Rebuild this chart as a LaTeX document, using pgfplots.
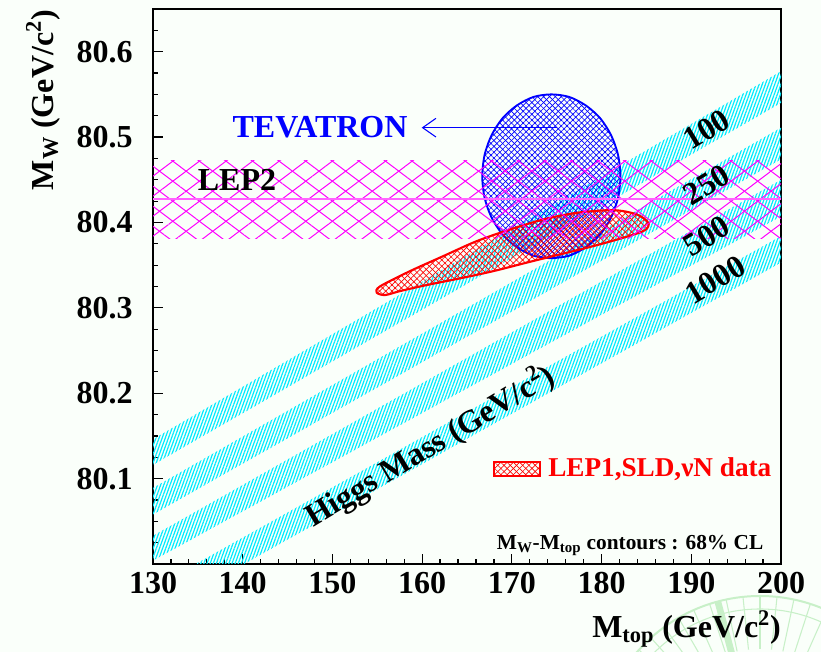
\documentclass[border=0pt]{standalone}
\usepackage{fontspec}
\setmainfont{Liberation Serif}
\usepackage{pgfplots}
\pgfplotsset{compat=1.18}
\usetikzlibrary{patterns.meta,arrows.meta}
\definecolor{bgc}{RGB}{250,255,250}
\definecolor{hcyan}{RGB}{0,235,255}
\definecolor{mag}{RGB}{255,0,255}
\definecolor{magline}{RGB}{255,100,255}
\definecolor{wm}{RGB}{200,240,200}
\newcommand{\bigf}{\fontsize{24}{28}\selectfont\bfseries}
\newcommand{\legf}{\fontsize{20.4}{24}\selectfont\bfseries}
\newcommand{\smallf}{\fontsize{16}{19}\selectfont\bfseries}
\begin{document}
\begin{tikzpicture}[x=0.75pt,y=0.75pt]
\fill[bgc] (0,0) rectangle (821,652);
\useasboundingbox (0,0) rectangle (821,652);
\begin{scope}
\clip (0,0) rectangle (821,652);
\draw[wm, line width=1.5pt] (760,-107) circle (163);
\draw[wm, line width=0.8pt] (760,-107) circle (150);
\foreach \a in {0,6,...,354} \draw[wm, line width=0.8pt, shift={(760,-107)}] (\a:110) -- (\a:163);
\draw[wm, line width=5pt, shift={(760,-107)}] (105:110) -- (105:163);
\end{scope}
\begin{axis}[
  at={(114.75pt,66pt)}, anchor=south west,
  scale only axis, width=471pt, height=416.25pt,
  xmin=130, xmax=200, ymin=80, ymax=80.65,
  xtick={130,140,150,160,170,180,190,200},
  ytick={80.1,80.2,80.3,80.4,80.5,80.6},
  yticklabels={80.1,80.2,80.3,80.4,80.5,80.6},
  minor xtick={132,134,136,138,142,144,146,148,152,154,156,158,162,164,166,168,172,174,176,178,182,184,186,188,192,194,196,198},
  minor ytick={80.025,80.05,80.075,80.125,80.15,80.175,80.225,80.25,80.275,80.325,80.35,80.375,80.425,80.45,80.475,80.525,80.55,80.575,80.625},
  tick pos=left, tick align=inside,
  major tick length=7.5pt, minor tick length=3.75pt,
  tick style={black, line width=0.9pt},
  axis line style={black, line width=1pt},
  /pgf/number format/assume math mode=true,
  tick label style={font=\bigf, inner sep=0pt},
  xticklabel style={yshift=-6pt},
  yticklabel style={xshift=-15pt},
  clip mode=individual,
]
% Higgs mass bands
\addplot[draw=none, pattern={Lines[angle=70,distance=2.2pt,line width=0.9pt]}, pattern color=hcyan]
  coordinates {(130,80.146) (200,80.577) (200,80.540) (130,80.116)} --cycle;
\addplot[draw=none, pattern={Lines[angle=70,distance=2.2pt,line width=0.9pt]}, pattern color=hcyan]
  coordinates {(130,80.089) (200,80.511) (200,80.474) (130,80.058)} --cycle;
\addplot[draw=none, pattern={Lines[angle=70,distance=2.2pt,line width=0.9pt]}, pattern color=hcyan]
  coordinates {(130,80.033) (200,80.450) (200,80.407) (130,80.004)} --cycle;
\addplot[draw=none, pattern={Lines[angle=70,distance=2.2pt,line width=0.9pt]}, pattern color=hcyan]
  coordinates {(130,79.972) (200,80.384) (200,80.353) (130,79.940)} --cycle;
% TEVATRON ellipse
\addplot[draw=none, pattern={Lines[angle=45,distance=3.1pt,line width=0.5pt]}, pattern color=blue, smooth]
  coordinates {(174.40,80.358) (176.39,80.361) (178.25,80.371) (179.85,80.386) (181.07,80.406) (181.84,80.429) (182.10,80.454) (181.84,80.479) (181.07,80.502) (179.85,80.522) (178.25,80.537) (176.39,80.547) (174.40,80.550) (172.41,80.547) (170.55,80.537) (168.96,80.522) (167.73,80.502) (166.96,80.479) (166.70,80.454) (166.96,80.429) (167.73,80.406) (168.96,80.386) (170.55,80.371) (172.41,80.361) (174.40,80.358)};
\addplot[draw=blue, line width=1.4pt, pattern={Lines[angle=-45,distance=3.1pt,line width=0.5pt]}, pattern color=blue, smooth]
  coordinates {(174.40,80.358) (176.39,80.361) (178.25,80.371) (179.85,80.386) (181.07,80.406) (181.84,80.429) (182.10,80.454) (181.84,80.479) (181.07,80.502) (179.85,80.522) (178.25,80.537) (176.39,80.547) (174.40,80.550) (172.41,80.547) (170.55,80.537) (168.96,80.522) (167.73,80.502) (166.96,80.479) (166.70,80.454) (166.96,80.429) (167.73,80.406) (168.96,80.386) (170.55,80.371) (172.41,80.361) (174.40,80.358)};
% LEP1 contour
\addplot[draw=none, pattern={Lines[angle=45,distance=3.3pt,line width=0.5pt]}, pattern color=red, smooth]
  coordinates {(171.66,80.353) (167.93,80.343) (164.22,80.3345) (160.51,80.3267) (157.53,80.3196) (155.86,80.315) (154.94,80.3178) (155.30,80.3251) (158.65,80.343) (162.36,80.3606) (166.08,80.3781) (169.80,80.3918) (173.51,80.4035) (177.23,80.4113) (181.31,80.4144) (183.92,80.4094) (185.21,80.3997) (184.84,80.391) (182.80,80.3833) (179.08,80.3723) (175.37,80.3626) (171.66,80.353)};
\addplot[draw=red, line width=1.6pt, pattern={Lines[angle=-45,distance=3.3pt,line width=0.5pt]}, pattern color=red, smooth]
  coordinates {(171.66,80.353) (167.93,80.343) (164.22,80.3345) (160.51,80.3267) (157.53,80.3196) (155.86,80.315) (154.94,80.3178) (155.30,80.3251) (158.65,80.343) (162.36,80.3606) (166.08,80.3781) (169.80,80.3918) (173.51,80.4035) (177.23,80.4113) (181.31,80.4144) (183.92,80.4094) (185.21,80.3997) (184.84,80.391) (182.80,80.3833) (179.08,80.3723) (175.37,80.3626) (171.66,80.353)};
% LEP2 band
\addplot[draw=none, pattern={Lines[angle=37,distance=12pt,line width=0.75pt]}, pattern color=mag]
  coordinates {(130,80.381) (200,80.381) (200,80.473) (130,80.473)} --cycle;
\addplot[draw=none, pattern={Lines[angle=-37,distance=12pt,line width=0.75pt]}, pattern color=mag]
  coordinates {(130,80.381) (200,80.381) (200,80.473) (130,80.473)} --cycle;
\addplot[magline, line width=1.5pt] coordinates {(130,80.427) (200,80.427)};
% legend box
\addplot[draw=red, line width=1.5pt, pattern={Lines[angle=45,distance=3.3pt,line width=0.5pt]}, pattern color=red]
  coordinates {(168.01,80.103) (173.14,80.103) (173.14,80.120) (168.01,80.120)} --cycle;
\addplot[draw=none, pattern={Lines[angle=-45,distance=3.3pt,line width=0.5pt]}, pattern color=red]
  coordinates {(168.01,80.103) (173.14,80.103) (173.14,80.120) (168.01,80.120)} --cycle;
% annotations
\draw[blue, line width=0.8pt, -{Straight Barb[length=10pt,width=14pt]}] (axis cs:175.0,80.511) -- (axis cs:159.95,80.511);
\node[font=\bigf, text=blue, inner sep=0pt] at (axis cs:148.62,80.512) {TEVATRON};
\node[font=\bigf, inner sep=0pt] at (axis cs:139.36,80.450) {LEP2};
\node[font=\bigf, inner sep=0pt, rotate=31] at (axis cs:191.72,80.509) {100};
\node[font=\bigf, inner sep=0pt, rotate=31] at (axis cs:191.72,80.444) {250};
\node[font=\bigf, inner sep=0pt, rotate=31] at (axis cs:191.72,80.384) {500};
\node[font=\bigf, inner sep=0pt, rotate=31] at (axis cs:192.65,80.333) {1000};
\node[font=\bigf, inner sep=0pt, rotate=31] at (axis cs:160.88,80.138) {Higgs Mass (GeV/c\textsuperscript{2})};
\node[font=\legf, text=red, inner sep=0pt, anchor=west] at (axis cs:174.03,80.111) {LEP1,SLD,νN data};
\node[font=\smallf, inner sep=0pt, anchor=base west] at (axis cs:168.31,80.0175) {M\textsubscript{W}-M\textsubscript{top} contours : 68\% CL};
\end{axis}
\node[font=\bigf, inner sep=0pt, anchor=base east] at (781,14) {M\textsubscript{top} (GeV/c\textsuperscript{2})};
\node[font=\bigf, inner sep=0pt, anchor=base east, rotate=90] at (53,642) {M\textsubscript{W} (GeV/c\textsuperscript{2})};
\end{tikzpicture}
\end{document}
